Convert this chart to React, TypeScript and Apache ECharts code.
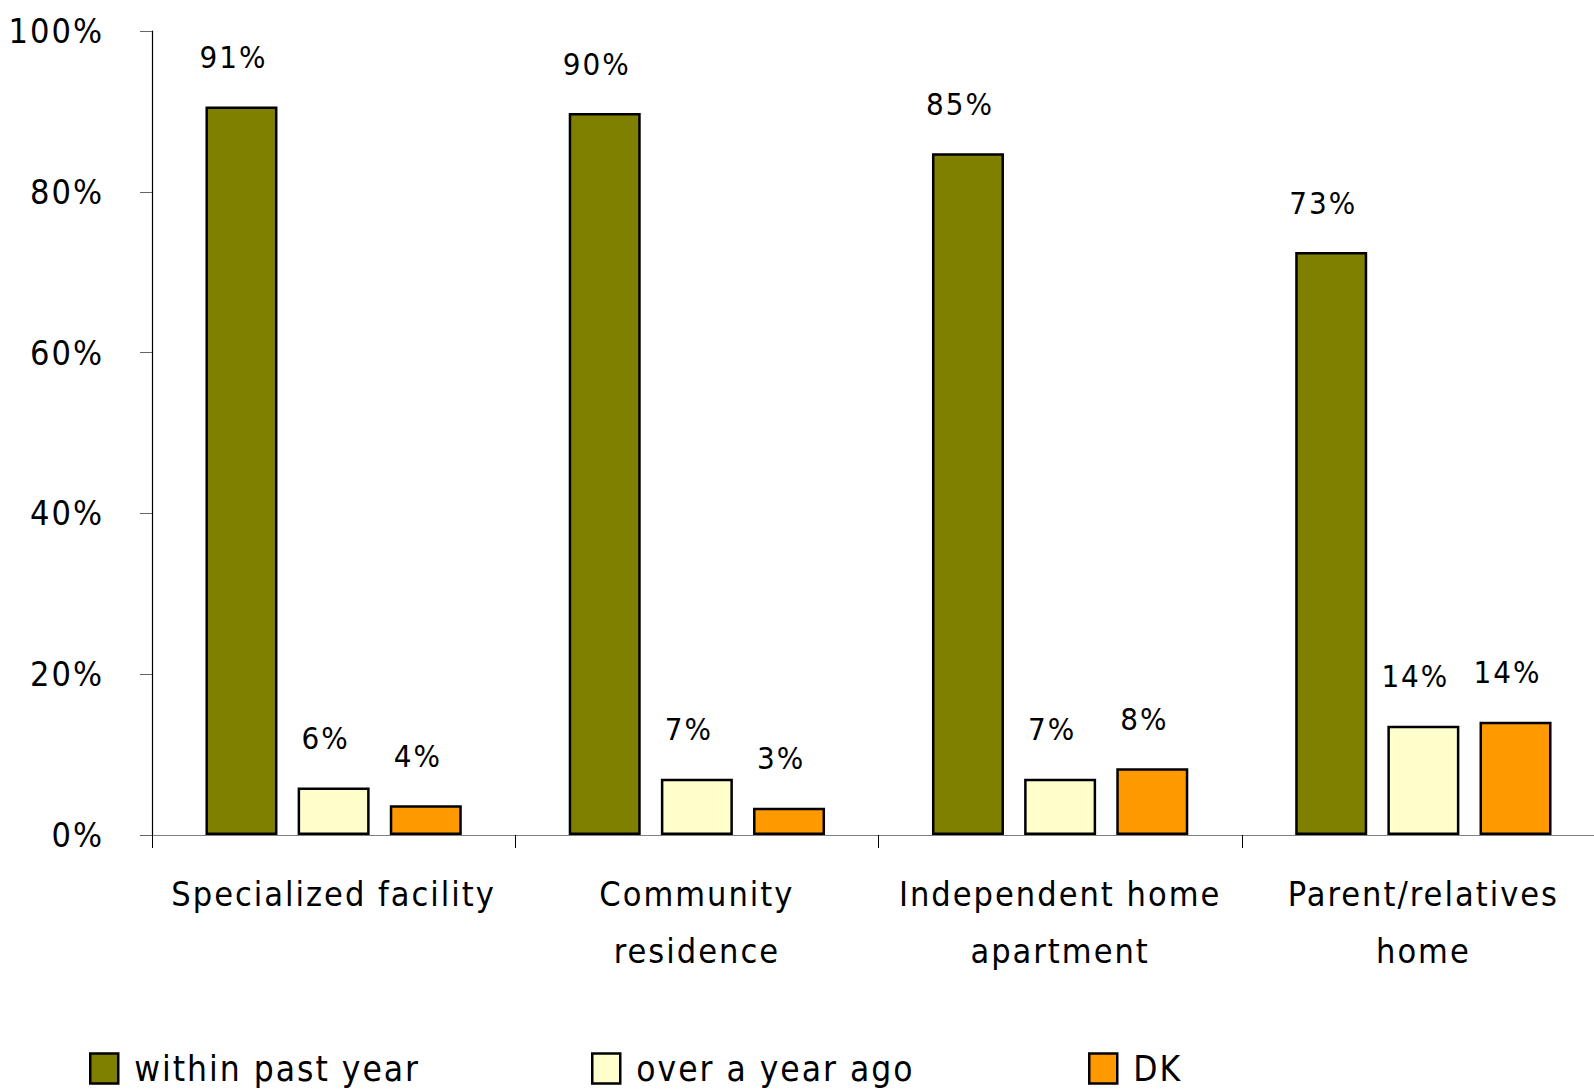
import React, { useEffect, useRef } from "react";
import * as echarts from "echarts";

const categories = [
  "Specialized facility",
  "Community\nresidence",
  "Independent home\napartment",
  "Parent/relatives\nhome",
];
const seriesNames = ["within past year", "over a year ago", "DK"];
const withinPastYear = [90.6, 89.8, 84.8, 72.5];
const overAYearAgo = [5.9, 7.0, 7.0, 13.6];
const dontKnow = [3.7, 3.4, 8.3, 14.1];
const seriesValues = [withinPastYear, overAYearAgo, dontKnow];
const colors = ["#808000", "#FFFFCC", "#FF9900"];
const legendLefts = [84, 586, 1083];

const FONT = "'DejaVu Sans Condensed', 'DejaVu Sans', sans-serif";

export default function App() {
  const ref = useRef<HTMLDivElement>(null);
  useEffect(() => {
    if (!ref.current) return;
    const chart = echarts.init(ref.current, undefined, { renderer: "svg" });
    const option: any = {
      animation: false,
      backgroundColor: "#ffffff",
      textStyle: { fontFamily: FONT, color: "#000" },
      grid: {
        left: 152,
        top: 31,
        width: 1453,
        height: 804,
        containLabel: false,
        outerBoundsMode: "none",
      },
      legend: seriesNames.map((name, i) => ({
        data: [name],
        left: legendLefts[i],
        top: 1046,
        itemWidth: 28,
        itemHeight: 30,
        icon: "rect",
        selectedMode: false,
        itemStyle: { color: colors[i], borderColor: "#000", borderWidth: 2.5 },
        textStyle: { fontFamily: FONT, fontSize: 35, color: "#000", padding: [0, 0, 0, 11] },
      })),
      xAxis: {
        type: "category",
        data: categories,
        axisLine: { lineStyle: { color: "#808080", width: 1.2 } },
        axisTick: { show: true, length: 13, lineStyle: { color: "#000", width: 1 } },
        axisLabel: {
          interval: 0,
          margin: 30,
          fontSize: 34,
          lineHeight: 57,
          color: "#000",
          fontFamily: FONT,
        },
        splitLine: { show: false },
      },
      yAxis: {
        type: "value",
        min: 0,
        max: 100,
        interval: 20,
        axisLine: { show: true, lineStyle: { color: "#000", width: 1.2 } },
        axisTick: { show: true, length: 12, lineStyle: { color: "#666", width: 1 } },
        axisLabel: {
          formatter: "{value}%",
          margin: 48,
          fontSize: 34,
          color: "#000",
          fontFamily: FONT,
          padding: [0, 0, 6, 0],
        },
        splitLine: { show: false },
      },
      series: seriesNames.map((name, i) => ({
        name,
        type: "bar",
        data: seriesValues[i],
        barWidth: 72,
        barGap: "28%",
        itemStyle: { color: colors[i], borderColor: "#000", borderWidth: 2.5 },
        label: {
          show: true,
          position: "top",
          distance: 34,
          offset: [-8, 0],
          fontSize: 31,
          color: "#000",
          fontFamily: FONT,
          formatter: (p: any) => Math.round(p.value) + "%",
        },
      })),
    };
    chart.setOption(option);
    return () => chart.dispose();
  }, []);
  return (
    <div
      ref={ref}
      style={{
        position: "fixed",
        left: 0,
        top: 0,
        width: 1594,
        height: 1092,
        letterSpacing: "2px",
        background: "#fff",
      }}
    />
  );
}
